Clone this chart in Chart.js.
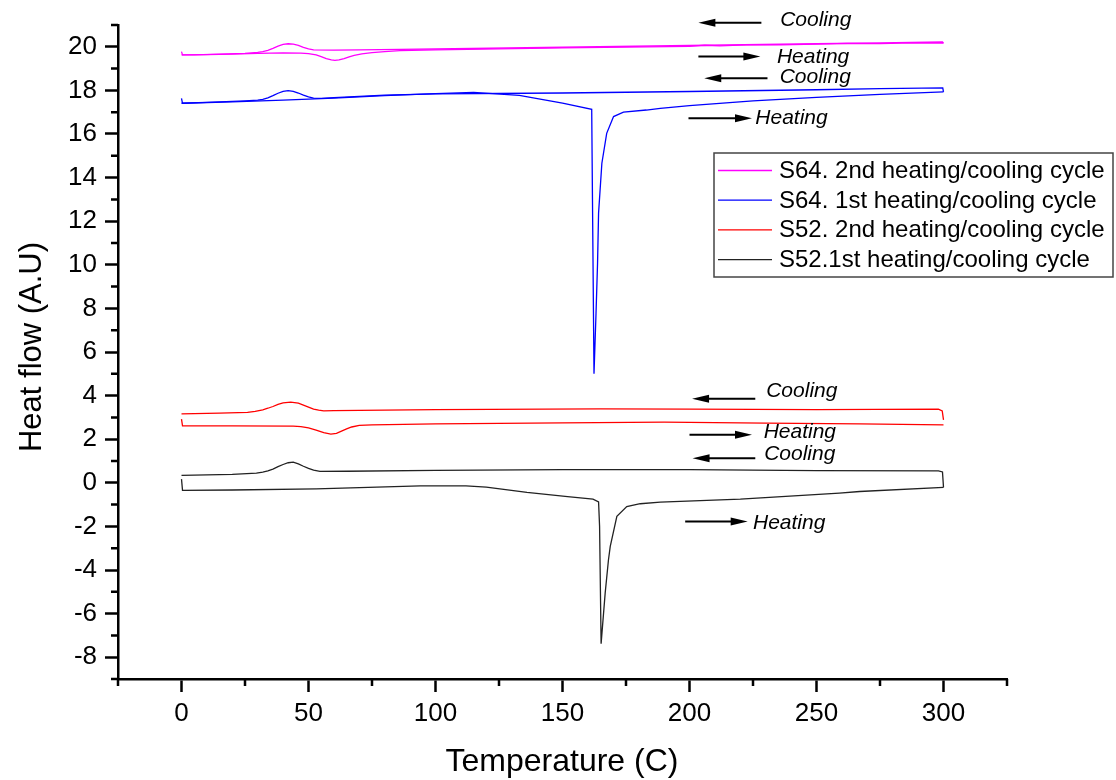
<!DOCTYPE html>
<html>
<head>
<meta charset="utf-8">
<title>Heat flow vs temperature</title>
<script src="https://cdn.jsdelivr.net/npm/chart.js@4.4.1/dist/chart.umd.min.js"></script>
<style>
  html, body { margin: 0; padding: 0; background: #fff; }
  #chart { display: block; }
</style>
</head>
<body>
<canvas id="chart" width="1116" height="780"></canvas>
<script>
// Values (temperature in C, heat flow in A.U)

// S64, 2nd heating/cooling cycle
const s64b_heatT = [0, 0.4, 10, 20, 30, 40, 47, 50, 53, 55, 57, 59, 60.4, 62, 64, 66, 68, 71, 75, 80, 86, 100, 150, 200, 206, 212, 225, 236, 250, 262, 275, 288, 300];
const s64b_heatQ = [19.78, 19.63, 19.64, 19.66, 19.7, 19.72, 19.71, 19.69, 19.63, 19.55, 19.46, 19.4, 19.38, 19.4, 19.46, 19.54, 19.61, 19.68, 19.73, 19.78, 19.82, 19.86, 19.95, 20.02, 20.07, 20.04, 20.1, 20.09, 20.12, 20.16, 20.15, 20.18, 20.17];
const s64b_coolT = [300, 299.6, 275, 250, 200, 150, 100, 86, 70, 60, 52, 50, 48, 46, 44, 42, 40, 38, 36, 34, 32, 30, 25, 15, 5, 0];
const s64b_coolQ = [20.17, 20.22, 20.18, 20.14, 20.06, 19.98, 19.9, 19.88, 19.86, 19.85, 19.86, 19.9, 19.97, 20.06, 20.12, 20.14, 20.11, 20.03, 19.93, 19.84, 19.78, 19.74, 19.7, 19.66, 19.63, 19.63];

// S64, 1st heating/cooling cycle
const s64a_heatT = [0, 0.4, 20, 40, 60, 80, 100, 115, 133, 150, 161.5, 161.8, 162.4, 163.2, 163.8, 164.2, 165.5, 167.4, 170.1, 174, 183, 188.5, 200, 225, 250, 275, 300];
const s64a_heatQ = [17.63, 17.41, 17.47, 17.55, 17.65, 17.76, 17.85, 17.91, 17.77, 17.42, 17.13, 13.0, 5.0, 7.78, 10.07, 12.37, 14.66, 16.03, 16.8, 17.0, 17.1, 17.18, 17.3, 17.52, 17.68, 17.82, 17.93];
const s64a_coolT = [300, 299.7, 275, 250, 200, 150, 100, 80, 60, 55, 52, 50, 48, 46, 44, 42, 40, 38, 36, 34, 32, 30, 25, 20, 10, 0];
const s64a_coolQ = [17.93, 18.12, 18.08, 18.03, 17.95, 17.88, 17.84, 17.78, 17.67, 17.63, 17.65, 17.7, 17.78, 17.88, 17.96, 17.99, 17.96, 17.87, 17.76, 17.66, 17.59, 17.55, 17.52, 17.5, 17.45, 17.41];

// S52, 2nd heating/cooling cycle
const s52b_heatT = [0, 0.4, 20, 44, 47, 50, 53, 56, 58.8, 61, 63, 65, 67, 70, 75, 100, 150, 190, 230, 267, 300];
const s52b_heatQ = [2.92, 2.61, 2.61, 2.6, 2.58, 2.52, 2.42, 2.3, 2.23, 2.27, 2.37, 2.47, 2.56, 2.63, 2.66, 2.7, 2.75, 2.78, 2.74, 2.7, 2.66];
const s52b_coolT = [300, 299.5, 298, 250, 200, 165, 100, 70, 60, 56, 54, 52, 50, 48, 46, 43, 40, 38, 36, 34, 32, 29, 26, 15, 0];
const s52b_coolQ = [2.89, 3.3, 3.38, 3.36, 3.38, 3.39, 3.36, 3.32, 3.31, 3.3, 3.33, 3.38, 3.47, 3.56, 3.65, 3.7, 3.67, 3.6, 3.5, 3.42, 3.35, 3.28, 3.23, 3.2, 3.16];

// S52, 1st heating/cooling cycle
const s52a_heatT = [0, 0.4, 20, 53, 94, 112, 120, 136, 152, 162, 164.2, 164.6, 165.2, 166.8, 168.1, 168.8, 171.4, 175.3, 180.6, 188.5, 220, 259, 267, 300];
const s52a_heatQ = [0.17, -0.35, -0.33, -0.28, -0.14, -0.14, -0.2, -0.44, -0.63, -0.75, -0.88, -2.0, -7.38, -5.06, -3.53, -2.92, -1.54, -1.09, -0.96, -0.89, -0.75, -0.47, -0.4, -0.21];
const s52a_coolT = [300, 299.6, 298, 250, 200, 150, 100, 65, 54.5, 52, 50, 48, 46, 44, 42, 40, 38, 36, 34, 32, 29.5, 20, 0];
const s52a_coolQ = [-0.21, 0.5, 0.55, 0.56, 0.6, 0.6, 0.57, 0.53, 0.52, 0.58, 0.66, 0.76, 0.87, 0.95, 0.92, 0.84, 0.74, 0.63, 0.55, 0.49, 0.44, 0.39, 0.34];

const seriesNames = [
  "S64. 2nd heating/cooling cycle",
  "S64. 1st heating/cooling cycle",
  "S52. 2nd heating/cooling cycle",
  "S52.1st heating/cooling cycle",
];
const seriesColors = ["#ff00ff", "#0000ff", "#ff0000", "#222222"];

// Axis ticks
const xMajor = [0, 50, 100, 150, 200, 250, 300];
const xMinor = [-25, 25, 75, 125, 175, 225, 275, 325];
const yMajor = [-8, -6, -4, -2, 0, 2, 4, 6, 8, 10, 12, 14, 16, 18, 20];
const yMinor = [-9, -7, -5, -3, -1, 1, 3, 5, 7, 9, 11, 13, 15, 17, 19, 21];

// Arrow labels: text at (tx, ty baseline), arrow from x0 to x1 at ay
const noteText = ["Cooling", "Heating", "Cooling", "Heating", "Cooling", "Heating", "Cooling", "Heating"];
const noteTx = [235.7, 234.4, 235.5, 225.9, 230.2, 229.2, 229.4, 225.0];
const noteTy = [20.95, 19.24, 18.33, 16.46, 3.93, 2.05, 1.05, -2.12];
const noteX0 = [228.3, 203.5, 230.7, 199.6, 225.9, 200.0, 225.9, 198.3];
const noteX1 = [203.5, 227.9, 205.8, 224.6, 201.0, 224.6, 201.2, 222.9];
const noteAy = [21.1, 19.55, 18.56, 16.72, 3.85, 2.2, 1.13, -1.77];

const FONT = '"Liberation Sans", Arial, sans-serif';

function pts(t, q) {
  return t.map((v, i) => ({ x: v, y: q[i] }));
}

function curve(t, q, color) {
  return {
    data: pts(t, q),
    borderColor: color,
    borderWidth: 1.3,
    pointRadius: 0,
    tension: 0,
    showLine: true,
    fill: false,
  };
}

const datasets = [
  curve(s52a_heatT, s52a_heatQ, seriesColors[3]),
  curve(s52a_coolT, s52a_coolQ, seriesColors[3]),
  curve(s52b_heatT, s52b_heatQ, seriesColors[2]),
  curve(s52b_coolT, s52b_coolQ, seriesColors[2]),
  curve(s64a_heatT, s64a_heatQ, seriesColors[1]),
  curve(s64a_coolT, s64a_coolQ, seriesColors[1]),
  curve(s64b_heatT, s64b_heatQ, seriesColors[0]),
  curve(s64b_coolT, s64b_coolQ, seriesColors[0]),
];

// Minor ticks, arrow notes, legend box and axis titles
const extras = {
  id: "extras",
  afterDraw(chart) {
    const { ctx } = chart;
    const x = chart.scales.x;
    const y = chart.scales.y;
    ctx.save();

    ctx.strokeStyle = "#000";
    ctx.lineWidth = 2.5;
    ctx.beginPath();
    xMinor.forEach((v) => {
      const px = x.getPixelForValue(v);
      ctx.moveTo(px, y.bottom);
      ctx.lineTo(px, y.bottom + 7);
    });
    yMinor.forEach((v) => {
      const py = y.getPixelForValue(v);
      ctx.moveTo(x.left, py);
      ctx.lineTo(x.left - 7, py);
    });
    ctx.stroke();

    // arrows + italic labels
    ctx.fillStyle = "#000";
    ctx.font = "italic 21px " + FONT;
    ctx.textAlign = "left";
    ctx.textBaseline = "alphabetic";
    noteText.forEach((txt, i) => {
      const ay = y.getPixelForValue(noteAy[i]);
      const a = x.getPixelForValue(noteX0[i]);
      const b = x.getPixelForValue(noteX1[i]);
      const dir = b > a ? 1 : -1;
      ctx.lineWidth = 2;
      ctx.beginPath();
      ctx.moveTo(a, ay);
      ctx.lineTo(b - dir * 12, ay);
      ctx.stroke();
      ctx.beginPath();
      ctx.moveTo(b, ay);
      ctx.lineTo(b - dir * 17, ay - 4);
      ctx.lineTo(b - dir * 17, ay + 4);
      ctx.closePath();
      ctx.fill();
      ctx.fillText(txt, x.getPixelForValue(noteTx[i]), y.getPixelForValue(noteTy[i]));
    });

    // legend
    ctx.lineWidth = 1.5;
    ctx.strokeStyle = "#444";
    ctx.strokeRect(714, 153, 399, 124);
    ctx.font = "24px " + FONT;
    seriesNames.forEach((name, i) => {
      const ly = 170.5 + i * 29.7;
      ctx.strokeStyle = seriesColors[i];
      ctx.lineWidth = 1.3;
      ctx.beginPath();
      ctx.moveTo(718, ly);
      ctx.lineTo(772, ly);
      ctx.stroke();
      ctx.fillStyle = "#000";
      ctx.fillText(name, 779, ly + 7.5);
    });

    // axis titles
    ctx.fillStyle = "#000";
    ctx.font = "32px " + FONT;
    ctx.textAlign = "center";
    ctx.fillText("Temperature (C)", 562, 771);
    ctx.save();
    ctx.translate(41, 347);
    ctx.rotate(-Math.PI / 2);
    ctx.font = "31px " + FONT;
    ctx.fillText("Heat flow (A.U)", 0, 0);
    ctx.restore();

    ctx.restore();
  },
};

new Chart(document.getElementById("chart"), {
  type: "scatter",
  data: { datasets },
  options: {
    responsive: false,
    animation: false,
    events: [],
    layout: { padding: { left: 0, top: 25, right: 109, bottom: 0 } },
    plugins: { legend: { display: false }, tooltip: { enabled: false } },
    scales: {
      x: {
        type: "linear",
        min: -25,
        max: 325,
        afterFit: (s) => { s.height = 101; },
        afterBuildTicks: (s) => { s.ticks = xMajor.map((v) => ({ value: v })); },
        border: { display: true, color: "#000", width: 2.5 },
        grid: { drawOnChartArea: false, drawTicks: true, tickLength: 13, tickWidth: 2.5, tickColor: "#000" },
        ticks: { color: "#000", font: { family: FONT, size: 26 }, padding: 6, maxRotation: 0 },
      },
      y: {
        type: "linear",
        min: -9,
        max: 21,
        afterFit: (s) => { s.width = 118; },
        afterBuildTicks: (s) => { s.ticks = yMajor.map((v) => ({ value: v })); },
        border: { display: true, color: "#000", width: 2.5 },
        grid: { drawOnChartArea: false, drawTicks: true, tickLength: 13, tickWidth: 2.5, tickColor: "#000" },
        ticks: { color: "#000", font: { family: FONT, size: 26 }, padding: 8 },
      },
    },
  },
  plugins: [extras],
});
</script>
</body>
</html>
